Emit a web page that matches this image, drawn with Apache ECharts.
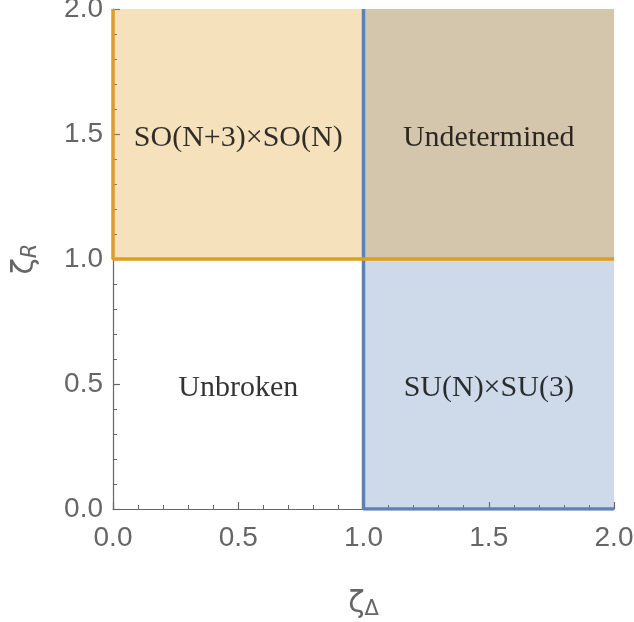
<!DOCTYPE html>
<html>
<head>
<meta charset="utf-8">
<script src="https://cdn.jsdelivr.net/npm/echarts@6/dist/echarts.min.js"></script>
<style>
  html, body { margin: 0; padding: 0; background: #fff; }
  #chart { width: 634px; height: 622px; }
</style>
</head>
<body>
<div id="chart"></div>
<script>
// Phase diagram in the (ζΔ, ζR) plane
const axisTicks = [0, 0.5, 1.0, 1.5, 2.0];

// Filled regions as [xmin, ymin, xmax, ymax]
const blueRegion = [1, 0, 2, 2];     // ζΔ > 1
const orangeRegion = [0, 1, 2, 2];   // ζR > 1

// Region boundaries (polylines)
const orangeBoundary = [[0, 2], [0, 1], [2, 1]];
const blueBoundary = [[1, 2], [1, 0], [2, 0]];

// Phase names and where they sit
const phaseNames = ['SO(N+3)×SO(N)', 'Undetermined', 'Unbroken', 'SU(N)×SU(3)'];
const phasePoints = [[0.5, 1.5], [1.5, 1.5], [0.5, 0.5], [1.5, 0.5]];

const ORANGE = '#E19C24';
const BLUE = '#5E81B5';
const GRAY = '#666666';

const chart = echarts.init(document.getElementById('chart'), null, { renderer: 'canvas' });

function areaSeries(r, color, z) {
  return {
    type: 'line',
    data: [],
    z: z,
    silent: true,
    markArea: {
      silent: true,
      itemStyle: { color: color, opacity: 0.3, borderWidth: 0 },
      data: [[{ coord: [r[0], r[1]] }, { coord: [r[2], r[3]] }]]
    }
  };
}

function axisCommon() {
  return {
    type: 'value',
    min: axisTicks[0],
    max: axisTicks[axisTicks.length - 1],
    interval: axisTicks[1] - axisTicks[0],
    axisLine: { show: true, lineStyle: { color: GRAY, width: 1.2 } },
    axisTick: { show: true, inside: true, length: 7, lineStyle: { color: GRAY, width: 1.2 } },
    minorTick: { show: true, splitNumber: 5, length: 4, lineStyle: { color: GRAY, width: 1 } },
    splitLine: { show: false },
    axisLabel: {
      color: GRAY,
      fontFamily: 'Liberation Sans, Arial, sans-serif',
      fontSize: 28,
      formatter: v => v.toFixed(1),
      showMinLabel: true,
      showMaxLabel: true
    },
    nameLocation: 'middle'
  };
}

const option = {
  animation: false,
  backgroundColor: '#ffffff',
  grid: {
    left: 113, right: 20, top: 9, bottom: 113,
    containLabel: false,
    outerBoundsMode: 'none'
  },
  xAxis: Object.assign(axisCommon(), {
    name: '{z|ζ}{s|Δ}',
    nameGap: 80,
    nameTextStyle: {
      color: GRAY,
      rich: {
        z: { fontSize: 30, color: GRAY, fontFamily: 'DejaVu Sans, sans-serif' },
        s: { fontSize: 21, color: GRAY, fontFamily: 'DejaVu Sans, sans-serif', padding: [10, 0, 0, 0] }
      }
    },
    axisLabel: Object.assign(axisCommon().axisLabel, { margin: 15 })
  }),
  yAxis: Object.assign(axisCommon(), {
    name: '{z|ζ}{s|R}',
    nameGap: 72,
    nameTextStyle: {
      color: GRAY,
      rich: {
        z: { fontSize: 30, color: GRAY, fontFamily: 'DejaVu Sans, sans-serif' },
        s: { fontSize: 21, color: GRAY, fontFamily: 'DejaVu Sans, sans-serif', fontStyle: 'italic', padding: [10, 0, 0, 0] }
      }
    },
    axisLabel: Object.assign(axisCommon().axisLabel, { margin: 10 })
  }),
  series: [
    areaSeries(blueRegion, BLUE, 1),
    areaSeries(orangeRegion, ORANGE, 2),
    {
      type: 'line',
      data: blueBoundary,
      z: 3,
      symbol: 'none',
      silent: true,
      lineStyle: { color: BLUE, width: 3.5 }
    },
    {
      type: 'line',
      data: orangeBoundary,
      z: 4,
      symbol: 'none',
      silent: true,
      lineStyle: { color: ORANGE, width: 3.5 }
    },
    {
      type: 'scatter',
      z: 5,
      silent: true,
      symbolSize: 0,
      data: phasePoints.map((p, i) => ({ value: p, name: phaseNames[i] })),
      label: {
        show: true,
        position: 'inside',
        offset: [0, 4],
        formatter: p => p.name,
        color: '#000',
        fontFamily: 'Liberation Serif, Times New Roman, serif',
        fontSize: 30
      }
    }
  ]
};

chart.setOption(option);
</script>
</body>
</html>
